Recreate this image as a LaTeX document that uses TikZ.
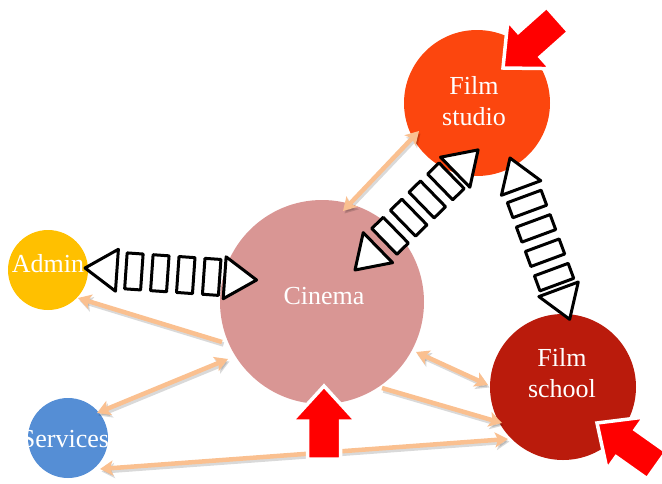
\documentclass[tikz,border=0pt]{standalone}
\usepackage{fontspec}
\setmainfont{Liberation Serif}
\usetikzlibrary{arrows.meta}
\definecolor{studioc}{RGB}{252,70,14}
\definecolor{cinemac}{RGB}{217,150,148}
\definecolor{adminc}{RGB}{255,192,0}
\definecolor{servc}{RGB}{85,142,213}
\definecolor{schoolc}{RGB}{186,27,12}
\definecolor{peachc}{RGB}{250,192,144}
\tikzset{
  blob/.style={circle, inner sep=0pt, draw=none},
  lbl/.style={text=white, font=\fontsize{26}{31}\selectfont, align=center, inner sep=0pt},
  peach/.style={draw=peachc, line width=4.5pt},
  pshadow/.style={draw=black, draw opacity=0.15, fill opacity=0.15, line width=4.5pt, transform canvas={shift={(1.5pt,-2.5pt)}}},
  ptip/.style={arrows={-{Stealth[length=13pt,width=15pt,inset=3pt]}}},
  ptips/.style={arrows={{Stealth[length=13pt,width=15pt,inset=3pt]}-{Stealth[length=13pt,width=15pt,inset=3pt]}}},
  barr/.style={draw=black, fill=white, line width=3pt, line join=round},
  redarr/.style={fill=red, draw=white, line width=3.5pt, line join=miter},
  blockarrow/.pic={
    \draw[barr] (0,0) -- (32,21) -- (32,-21) -- cycle;
    \foreach \q in {49,75,101,127} \draw[barr] (\q-8,-18) rectangle (\q+8,18);
    \draw[barr] (172,0) -- (140,21) -- (140,-21) -- cycle;
  },
  redarrow/.pic={
    \draw[redarr] (0,0) -- (-35,-32) -- (-35,-16.5) -- (-73,-16.5) -- (-73,16.5) -- (-35,16.5) -- (-35,32) -- cycle;
  }
}
\newcommand\peacharrow[3]{\draw[pshadow,#1] (#2) -- (#3); \draw[peach,#1] (#2) -- (#3);}
\begin{document}
\begin{tikzpicture}[x=1pt,y=-1pt]
\useasboundingbox (0,0) rectangle (662,483);
% circles
\node[blob, fill=studioc, minimum size=146pt] (studio) at (477,103) {};
\node[blob, fill=cinemac, minimum size=204pt] (cinema) at (322,302) {};
\node[blob, fill=adminc, minimum size=80pt] (admin) at (48,270) {};
\node[blob, fill=servc, minimum size=80pt] (services) at (68,438) {};
\node[blob, fill=schoolc, minimum size=146pt] (school) at (563,387) {};
% labels
\node[lbl] (studiot) at (474,101) {Film\\studio};
\node[lbl] (cinemat) at (324,296) {Cinema};
\node[lbl] (admint) at (48,264) {Admin};
\node[lbl] (servt) at (65,439) {Services};
\node[lbl] (schoolt) at (562,373) {Film\\school};
% peach connector ends
\coordinate (p1a) at (419,131); \coordinate (p1b) at (343,211);
\coordinate (p2a) at (222,342); \coordinate (p2b) at (78,298);
\coordinate (p3a) at (228,359); \coordinate (p3b) at (97,413);
\coordinate (p4a) at (416,352); \coordinate (p4b) at (488,385);
\coordinate (p5a) at (382,388); \coordinate (p5b) at (502,423);
\coordinate (p6a) at (100,469); \coordinate (p6b) at (508,439);
\peacharrow{ptips}{p1a}{p1b}
\peacharrow{ptip}{p2a}{p2b}
\peacharrow{ptips}{p3a}{p3b}
\peacharrow{ptips}{p4a}{p4b}
\peacharrow{ptip}{p5a}{p5b}
\peacharrow{ptips}{p6a}{p6b}
% block arrows
\coordinate (b1) at (85,268);
\coordinate (b2) at (355,270);
\coordinate (b3) at (510,158);
\pic[rotate=-4] at (b1) {blockarrow};
\pic[rotate=44.3] at (b2) {blockarrow};
\pic[rotate=-69.7] at (b3) {blockarrow};
% red arrows
\coordinate (r1) at (324,386);
\coordinate (r2) at (503,68);
\coordinate (r3) at (597,423);
\pic[rotate=90] at (r1) {redarrow};
\pic[rotate=-138.3] at (r2) {redarrow};
\pic[rotate=144.7] at (r3) {redarrow};
\end{tikzpicture}
\end{document}
